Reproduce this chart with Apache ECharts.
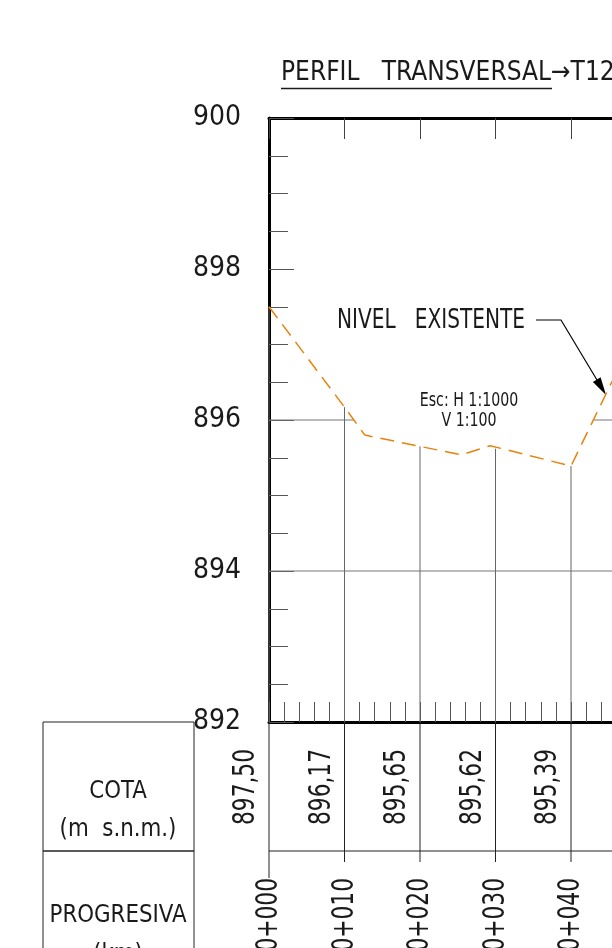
<!DOCTYPE html>
<html>
<head>
<meta charset="utf-8">
<script src="https://cdn.jsdelivr.net/npm/echarts@6/dist/echarts.min.js"></script>
<style>
  html, body { margin: 0; padding: 0; background: #fff; }
  #chart { width: 612px; height: 948px; }
</style>
</head>
<body>
<div id="chart"></div>
<script>
  // stations (m) and the ground levels written in the table
  const stations = [0, 10, 20, 30, 40];
  const cotaValues = [897.50, 896.17, 895.65, 895.62, 895.39];
  const cotaLabels = ['897,50', '896,17', '895,65', '895,62', '895,39'];
  const progLabels = ['0+000', '0+010', '0+020', '0+030', '0+040'];

  // existing ground profile (vertices)
  const profileX = [0, 10, 12.7, 20, 25.5, 29.3, 40, 50];
  const profileY = [897.50, 896.17, 895.80, 895.65, 895.54, 895.66, 895.39, 897.45];

  // horizontal reference lines, only drawn under the ground line
  const gridLevels = [894, 896, 898];

  const FONT = "'Liberation Sans Narrow', 'DejaVu Sans Condensed', sans-serif";
  const INK = '#1a1a1a';
  const ORANGE = '#e8820c';

  const chart = echarts.init(document.getElementById('chart'));

  // parts of a level that lie below the ground line
  const segmentsBelow = (level) => {
    const out = [];
    let start = profileY[0] > level ? profileX[0] : null;
    for (let k = 0; k < profileX.length - 1; k++) {
      const x0 = profileX[k], x1 = profileX[k + 1];
      const y0 = profileY[k], y1 = profileY[k + 1];
      if ((y0 - level) * (y1 - level) < 0) {
        const xc = x0 + (level - y0) / (y1 - y0) * (x1 - x0);
        if (start === null) start = xc;
        else { out.push([start, xc]); start = null; }
      }
    }
    if (start !== null) out.push([start, profileX[profileX.length - 1]]);
    return out;
  };

  // narrow drawing-style text
  const label = (x, y, text, size, sx, align) => ({
    type: 'text', x, y, scaleX: sx,
    style: { text, fontFamily: FONT, fontSize: size, fill: INK, align: align || 'center', verticalAlign: 'middle' }
  });

  chart.setOption({
    animation: false,
    backgroundColor: '#fff',
    grid: { left: 269, top: 118, height: 604, width: 453, outerBoundsMode: 'none' },
    xAxis: [
      {
        type: 'value', position: 'bottom', min: 0, max: 60, interval: 10,
        axisLine: { lineStyle: { color: '#000', width: 3 } },
        axisTick: { show: true, inside: true, length: 20, lineStyle: { color: '#555', width: 1 } },
        minorTick: { show: true, splitNumber: 5, length: 20, lineStyle: { color: '#555', width: 1 } },
        axisLabel: { show: false },
        splitLine: { show: false }
      },
      {
        type: 'value', position: 'top', min: 0, max: 60, interval: 10,
        axisLine: { lineStyle: { color: '#000', width: 3 } },
        axisTick: { show: true, inside: true, length: 21, lineStyle: { color: '#444', width: 1 } },
        axisLabel: { show: false },
        splitLine: { show: false }
      }
    ],
    yAxis: {
      type: 'value', min: 892, max: 900, interval: 2,
      axisLine: { show: true, lineStyle: { color: '#000', width: 3 } },
      axisTick: { show: true, inside: true, length: 25, lineStyle: { color: '#555', width: 1 } },
      minorTick: { show: true, splitNumber: 4, length: 19, lineStyle: { color: '#555', width: 1 } },
      axisLabel: { fontFamily: FONT, fontSize: 28, color: INK, margin: 28 },
      splitLine: { show: false }
    },
    series: [
      {
        // horizontal reference lines below the ground
        type: 'custom',
        clip: false,
        z: 1,
        data: gridLevels.map(l => [0, l]),
        renderItem: (params, api) => {
          const level = api.value(1);
          const children = segmentsBelow(level).map(([a, b]) => {
            const p0 = api.coord([a, level]);
            const p1 = api.coord([b, level]);
            return {
              type: 'line',
              shape: { x1: p0[0], y1: p0[1], x2: p1[0], y2: p1[1] },
              style: { stroke: '#777', lineWidth: 1 }
            };
          });
          return { type: 'group', children };
        }
      },
      {
        // station lines, table rows and table texts
        type: 'custom',
        clip: false,
        z: 1,
        data: stations.map((s, i) => [s, cotaValues[i], i]),
        renderItem: (params, api) => {
          const x = api.value(0);
          const z = api.value(1);
          const i = api.value(2);
          const top = api.coord([x, z]);
          const base = api.coord([x, 892]);
          const children = [
            {
              type: 'line',
              shape: { x1: base[0], y1: base[1], x2: top[0], y2: top[1] },
              style: { stroke: '#666', lineWidth: 1 }
            },
            {
              type: 'line',
              shape: { x1: base[0], y1: base[1], x2: base[0], y2: base[1] + (i === 0 ? 156 : 140) },
              style: { stroke: '#222', lineWidth: 1 }
            },
            {
              type: 'text',
              x: base[0] - 23, y: base[1] + 65, rotation: Math.PI / 2, scaleX: 0.78,
              style: {
                text: cotaLabels[i], fontFamily: FONT, fontSize: 31, fill: INK,
                align: 'center', verticalAlign: 'middle'
              }
            },
            {
              type: 'text',
              x: base[0], y: base[1] + 156, rotation: Math.PI / 2, scaleX: 0.78,
              style: {
                text: progLabels[i], fontFamily: FONT, fontSize: 31, fill: INK,
                align: 'right', verticalAlign: 'middle'
              }
            }
          ];
          if (i === 0) {
            const far = api.coord([60, 892]);
            children.push({
              type: 'line',
              shape: { x1: base[0], y1: base[1] + 129, x2: far[0], y2: far[1] + 129 },
              style: { stroke: '#222', lineWidth: 1 }
            });
          }
          return { type: 'group', children };
        }
      },
      {
        name: 'NIVEL EXISTENTE',
        type: 'line',
        z: 3,
        data: profileX.map((x, i) => [x, profileY[i]]),
        symbol: 'none',
        lineStyle: { color: ORANGE, width: 1.5, type: [14, 8] }
      }
    ],
    graphic: [
      label(281, 73, 'PERFIL   TRANSVERSAL→T12', 26, 1, 'left'),
      {
        type: 'line', shape: { x1: 281, y1: 88.5, x2: 552, y2: 88.5 },
        style: { stroke: INK, lineWidth: 1.5 }
      },
      label(337, 321, 'NIVEL   EXISTENTE', 26, 0.86, 'left'),
      {
        type: 'polyline', shape: { points: [[536, 320], [561, 320], [600, 385]] },
        style: { stroke: '#000', lineWidth: 1.2, fill: null }
      },
      {
        type: 'polygon', shape: { points: [[606, 395], [592.9, 381.9], [600.6, 377.3]] },
        style: { fill: '#000' }
      },
      label(469, 401, 'Esc: H 1:1000', 19, 0.83),
      label(469, 421, 'V 1:100', 19, 0.83),
      {
        type: 'rect', shape: { x: 43, y: 722, width: 151, height: 129 },
        style: { fill: null, stroke: '#222', lineWidth: 1 }
      },
      {
        type: 'rect', shape: { x: 43, y: 851, width: 151, height: 130 },
        style: { fill: null, stroke: '#222', lineWidth: 1 }
      },
      label(118, 791, 'COTA', 25, 0.95),
      label(118, 829, '(m  s.n.m.)', 25, 0.95),
      label(118, 915, 'PROGRESIVA', 25, 0.95),
      label(118, 954, '(km)', 25, 0.95)
    ]
  });
</script>
</body>
</html>
